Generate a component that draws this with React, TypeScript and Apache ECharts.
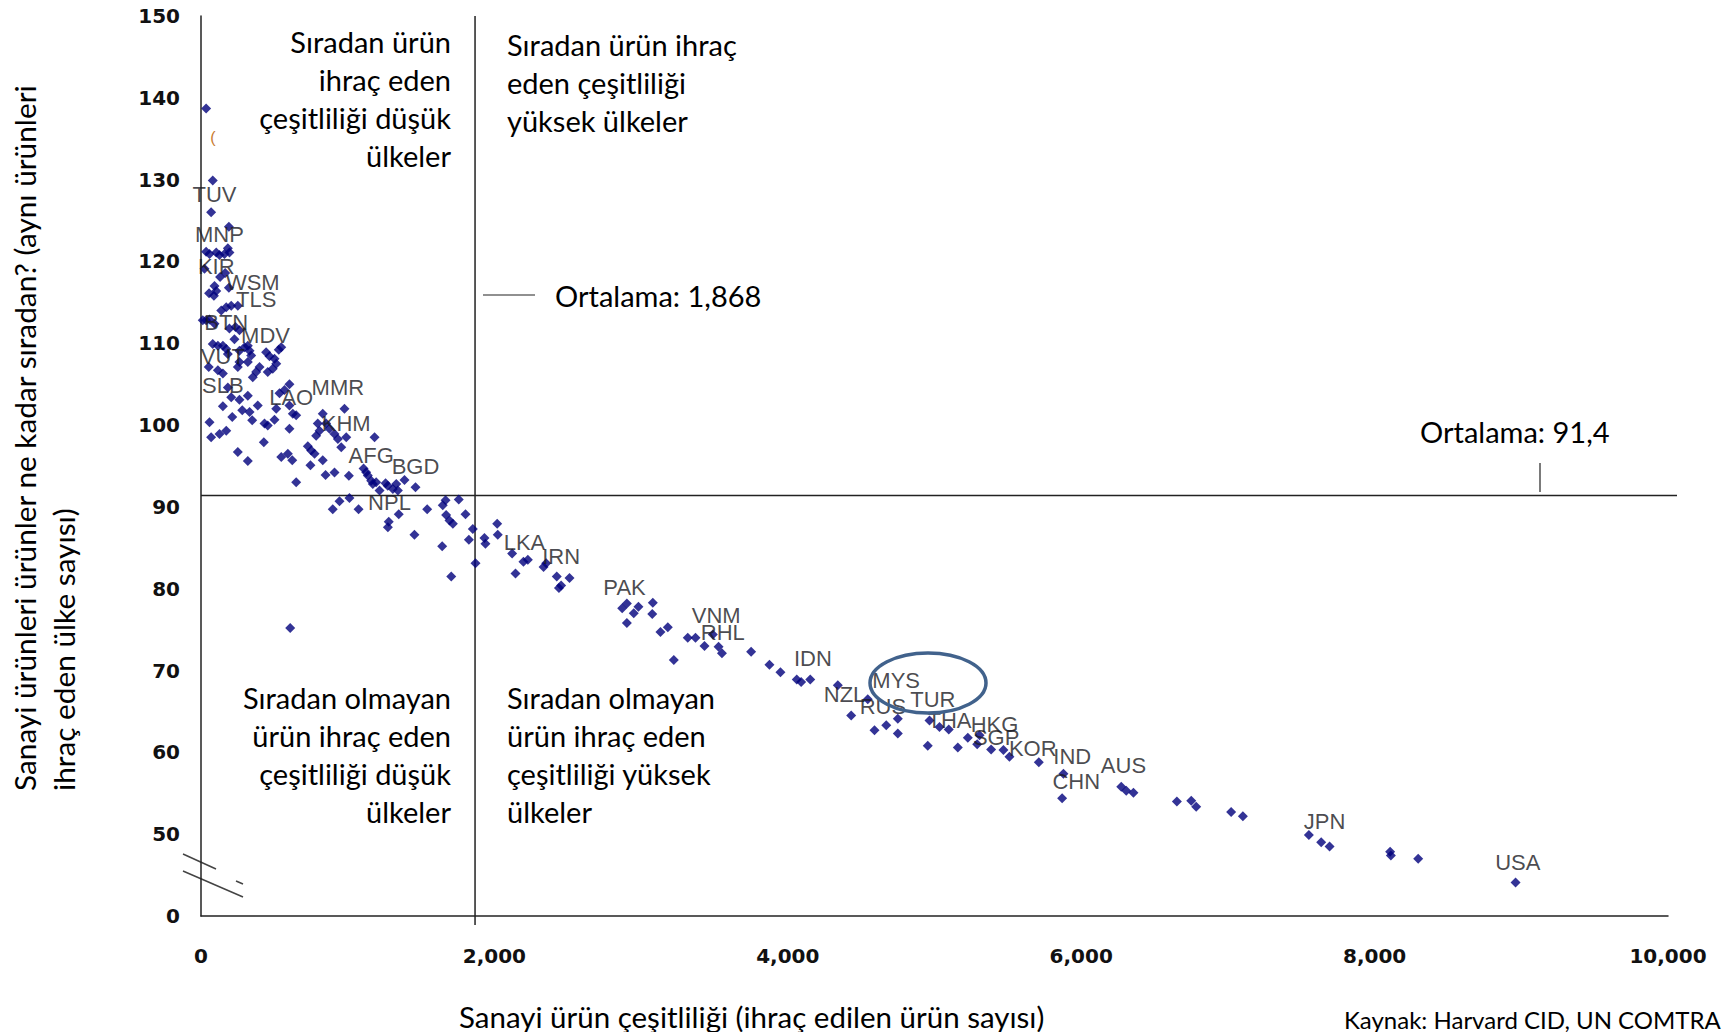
import React, { useEffect, useRef } from "react";
import * as echarts from "echarts";

// ---- data ----
const MEAN_X = 1868;
const MEAN_Y = 91.4;
const X_MIN = 0;
const X_MAX = 10000;
const X_STEP = 2000;
const Y_MIN = 40;
const Y_MAX = 150;
const Y_STEP = 10;
const Y_BREAK_LABEL = "0";

// countries with little product diversity (upper-left cluster)
const pointsLowDiversity: number[][] = [
  [35, 138.7], [80, 129.9], [69, 126.0], [190, 124.25],
  [35, 121.2], [58, 120.9], [104, 121.1], [126, 120.8], [160, 120.9], [183, 121.6], [194, 121.1], [24, 119.1],
  [130, 118.1], [165, 118.6], [92, 117.0], [104, 116.4], [55, 116.1], [88, 115.8], [190, 116.8],
  [138, 114.0], [172, 114.4], [206, 114.6], [251, 114.6],
  [12, 112.8], [35, 112.8], [58, 112.9], [92, 112.4],
  [194, 111.8], [235, 112.0], [262, 111.6], [228, 110.5],
  [80, 109.9], [115, 109.7], [149, 109.7], [172, 109.3], [183, 108.7],
  [262, 109.1], [297, 109.5], [319, 109.7], [331, 109.1], [342, 108.5],
  [262, 107.7], [251, 107.1], [53, 107.1], [115, 106.7], [149, 106.3],
  [319, 107.7], [399, 107.1],
  [444, 108.9], [467, 108.4], [501, 108.1], [530, 109.2], [547, 109.5],
  [455, 106.5], [489, 106.9], [513, 107.5], [353, 105.85], [376, 106.5],
  [183, 104.6], [206, 103.4], [262, 103.1], [319, 103.6],
  [149, 102.3], [213, 101.0], [281, 101.8], [331, 101.6], [349, 100.6], [387, 102.4],
  [433, 100.2], [455, 99.95], [513, 102.0], [501, 100.65],
  [603, 105.0], [535, 103.9], [569, 104.3], [603, 102.4], [603, 99.55], [626, 101.4], [649, 101.2],
  [58, 100.35], [69, 98.5], [126, 98.9], [172, 99.3],
  [251, 96.7], [319, 95.6], [428, 97.9], [547, 96.1], [592, 96.5], [622, 95.7], [649, 93.0],
  [728, 97.4], [751, 96.9], [774, 96.5], [830, 95.7], [746, 95.1],
  [785, 98.7], [808, 99.3], [830, 101.4], [796, 100.2], [853, 100.2], [876, 99.55],
  [910, 98.9], [933, 98.3], [956, 97.3], [990, 98.5], [978, 102.0], [1183, 98.5],
  [849, 93.9], [910, 94.2], [1008, 93.8],
  [1108, 94.7], [1126, 94.25], [1137, 93.85], [1160, 93.2],
  [1171, 92.8], [1194, 93.0], [1217, 92.0], [1258, 92.9], [1273, 92.6], [1308, 92.2],
  [1331, 92.8], [1342, 92.0], [1387, 93.3], [1462, 92.4],
  [898, 89.7], [944, 90.7], [1012, 91.1], [1074, 89.7], [1280, 88.2], [1274, 87.5],
  [1348, 89.1], [1455, 86.6], [1542, 89.7], [1644, 85.2], [1648, 90.2], [1667, 90.8],
  [1671, 89.0], [1694, 88.35], [1717, 87.95], [1706, 81.5], [1757, 90.9], [1803, 89.1],
  [1853, 87.3], [1826, 86.0], [1871, 83.1], [608, 75.2]
];

// countries with more product diversity (diagonal tail)
const pointsHighDiversity: number[][] = [
  [1932, 86.2], [1939, 85.5], [2019, 87.95], [2023, 86.6], [2121, 84.3], [2144, 81.85],
  [2198, 83.3], [2228, 83.55], [2335, 82.65], [2353, 83.1], [2425, 81.5], [2512, 81.3],
  [2440, 80.1], [2455, 80.4],
  [2871, 77.6], [2903, 78.2], [2950, 77.0], [2982, 77.8], [3080, 78.3], [3076, 76.9],
  [2903, 75.8], [3132, 74.7], [3182, 75.3], [3223, 71.3], [3318, 74.0], [3371, 74.0],
  [3432, 73.0], [3489, 74.4], [3528, 72.9], [3551, 72.1], [3750, 72.3], [3875, 70.7],
  [3950, 69.8], [4061, 68.9], [4091, 68.6], [4153, 68.9], [4341, 68.2], [4432, 64.5],
  [4545, 66.5], [4591, 62.7], [4671, 63.3], [4750, 62.3], [4750, 64.1],
  [4966, 63.9], [5034, 63.1], [5097, 62.8], [4954, 60.8], [5159, 60.6], [5227, 61.8],
  [5307, 62.1], [5291, 61.0], [5386, 60.35], [5470, 60.3], [5511, 59.45], [5711, 58.8],
  [5879, 57.4], [5870, 54.4], [6273, 55.8], [6307, 55.3], [6356, 55.05],
  [6652, 54.0], [6750, 54.1], [6784, 53.35], [7022, 52.7], [7102, 52.2],
  [7552, 49.9], [7636, 49.0], [7693, 48.5], [8106, 47.85], [8111, 47.4], [8297, 47.0],
  [8961, 44.1]
];

const labelNames = [
  "TUV", "MNP", "KIR", "WSM", "TLS", "BTN", "MDV", "VUT", "SLB", "LAO", "MMR", "KHM",
  "AFG", "BGD", "NPL", "LKA", "IRN", "PAK", "VNM", "RHL", "IDN", "NZL", "RUS", "MYS",
  "TUR", "THA", "HKG", "SGP", "KOR", "IND", "CHN", "AUS", "JPN", "USA"
];
const labelX = [
  92, 126, 104, 353, 376, 172, 440, 149, 149, 615, 933, 990,
  1160, 1462, 1285, 2205, 2455, 2887, 3512, 3557, 4171, 4387, 4648, 4739,
  4989, 5102, 5409, 5420, 5670, 5939, 5966, 6288, 7659, 8976
];
const labelY = [
  128.2, 123.35, 119.4, 117.4, 115.4, 112.6, 110.9, 108.4, 104.8, 103.4, 104.6, 100.15,
  96.3, 95.0, 90.6, 85.7, 83.9, 80.1, 76.75, 74.6, 71.5, 67.1, 65.6, 68.8,
  66.5, 63.9, 63.4, 61.8, 60.5, 59.45, 56.5, 58.4, 51.5, 46.6
];

const quadTopLeft = ["Sıradan ürün", "ihraç eden", "çeşitliliği düşük", "ülkeler"];
const quadTopRight = ["Sıradan ürün ihraç", "eden çeşitliliği", "yüksek ülkeler"];
const quadBottomLeft = ["Sıradan olmayan", "ürün ihraç eden", "çeşitliliği düşük", "ülkeler"];
const quadBottomRight = ["Sıradan olmayan", "ürün ihraç eden", "çeşitliliği yüksek", "ülkeler"];
const meanXText = "Ortalama: 1,868";
const meanYText = "Ortalama: 91,4";
const yTitle1 = "Sanayi ürünleri ürünler ne kadar sıradan? (aynı ürünleri";
const yTitle2 = "ihraç eden ülke sayısı)";
const xTitle = "Sanayi ürün çeşitliliği (ihraç edilen ürün sayısı)";
const sourceText = "Kaynak: Harvard CID, UN COMTRA";

const FONT = "Lato";

export default function App() {
  const ref = useRef<HTMLDivElement>(null);
  useEffect(() => {
    document.body.style.margin = "0";
    const chart = echarts.init(ref.current!, null, { renderer: "svg" });
    const labelData = labelNames.map((n, i) => ({ value: [labelX[i], labelY[i]], name: n }));
    const option: any = {
      animation: false,
      backgroundColor: "#fff",
      grid: { left: 201, right: 62, top: 16, bottom: 116 },
      xAxis: {
        type: "value",
        min: X_MIN,
        max: X_MAX,
        interval: X_STEP,
        axisLine: { show: true, lineStyle: { color: "#222", width: 1.5 } },
        axisTick: { show: false },
        splitLine: { show: false },
        axisLabel: {
          formatter: (v: number) => v.toLocaleString("en-US"),
          fontFamily: "DejaVu Sans",
          fontWeight: "bold",
          fontSize: 20,
          color: "#111",
          margin: 30,
        },
      },
      yAxis: {
        type: "value",
        min: Y_MIN,
        max: Y_MAX,
        interval: Y_STEP,
        axisLine: { show: true, lineStyle: { color: "#222", width: 1.5 } },
        axisTick: { show: false },
        splitLine: { show: false },
        axisLabel: {
          formatter: (v: number) => (v === Y_MIN ? Y_BREAK_LABEL : String(v)),
          fontFamily: "DejaVu Sans",
          fontWeight: "bold",
          fontSize: 20,
          color: "#111",
          margin: 21,
        },
      },
      series: [
        {
          type: "scatter",
          data: pointsLowDiversity.concat(pointsHighDiversity),
          symbol: "diamond",
          symbolSize: 10,
          itemStyle: { color: "#00007c" },
          z: 3,
        },
        {
          type: "scatter",
          data: labelData,
          symbolSize: 1,
          itemStyle: { color: "rgba(0,0,0,0)" },
          label: {
            show: true,
            position: "inside",
            formatter: (p: any) => p.name,
            fontFamily: "Liberation Sans",
            fontSize: 22,
            color: "#1a1a22",
          },
          z: 4,
        },
      ],
    };
    chart.setOption(option);

    const px = (x: number, y: number) => chart.convertToPixel({ gridIndex: 0 }, [x, y]) as number[];
    const [vx, vTop] = px(MEAN_X, Y_MAX);
    const [, vBot] = px(MEAN_X, Y_MIN);
    const [hLeft, hy] = px(X_MIN, MEAN_Y);
    const [hRight] = px(X_MAX, MEAN_Y);

    const lineStyle = { stroke: "#222", lineWidth: 1.5 };
    const txt = (text: string, x: number, y: number, align: string, size = 29) => ({
      type: "text",
      x,
      y,
      style: { text, x: 0, y: 0, align, verticalAlign: "middle", fontFamily: FONT, fontSize: size, fill: "#000" },
      z: 10,
    });
    const g: any[] = [
      { type: "line", shape: { x1: vx, y1: vTop, x2: vx, y2: vBot + 9 }, style: lineStyle, z: 1 },
      { type: "line", shape: { x1: hLeft, y1: hy, x2: hRight + 9, y2: hy }, style: lineStyle, z: 1 },
      { type: "line", shape: { x1: 483, y1: 295, x2: 535, y2: 295 }, style: { stroke: "#222", lineWidth: 1.2 } },
      { type: "line", shape: { x1: 1540, y1: 463, x2: 1540, y2: 492 }, style: { stroke: "#222", lineWidth: 1.2 } },
      // axis break marks
      { type: "line", shape: { x1: 183, y1: 854, x2: 216, y2: 869 }, style: { stroke: "#444", lineWidth: 1.5 } },
      { type: "line", shape: { x1: 236, y1: 881, x2: 243, y2: 884 }, style: { stroke: "#444", lineWidth: 1.5 } },
      { type: "line", shape: { x1: 183, y1: 871, x2: 243, y2: 897 }, style: { stroke: "#444", lineWidth: 1.5 } },
      // highlight ellipse
      {
        type: "ellipse",
        shape: { cx: 928, cy: 683, rx: 58, ry: 30 },
        style: { fill: "none", stroke: "#41628c", lineWidth: 3.5 },
        z: 5,
      },
      {
        type: "text",
        x: 213,
        y: 137,
        style: { text: "(", x: 0, y: 0, align: "center", verticalAlign: "middle", fontFamily: "Liberation Sans", fontSize: 16, fill: "#c87a30" },
      },
      txt(meanXText, 555, 295, "left"),
      txt(meanYText, 1420, 431, "left"),
    ];
    quadTopLeft.forEach((t, i) => g.push(txt(t, 451, 41 + i * 38, "right")));
    quadTopRight.forEach((t, i) => g.push(txt(t, 507, 44 + i * 38, "left")));
    quadBottomLeft.forEach((t, i) => g.push(txt(t, 451, 697 + i * 38.3, "right")));
    quadBottomRight.forEach((t, i) => g.push(txt(t, 507, 697 + i * 38.3, "left")));
    g.push(txt(xTitle, 459, 1016, "left", 29.5));
    g.push(txt(sourceText, 1344, 1019, "left", 24));
    g.push({ ...txt(yTitle1, 24, 791, "left", 29.8), rotation: Math.PI / 2 });
    g.push({ ...txt(yTitle2, 63, 791, "left", 29.8), rotation: Math.PI / 2 });
    chart.setOption({ graphic: g });

    return () => chart.dispose();
  }, []);
  return <div ref={ref} style={{ width: 1730, height: 1032 }} />;
}
